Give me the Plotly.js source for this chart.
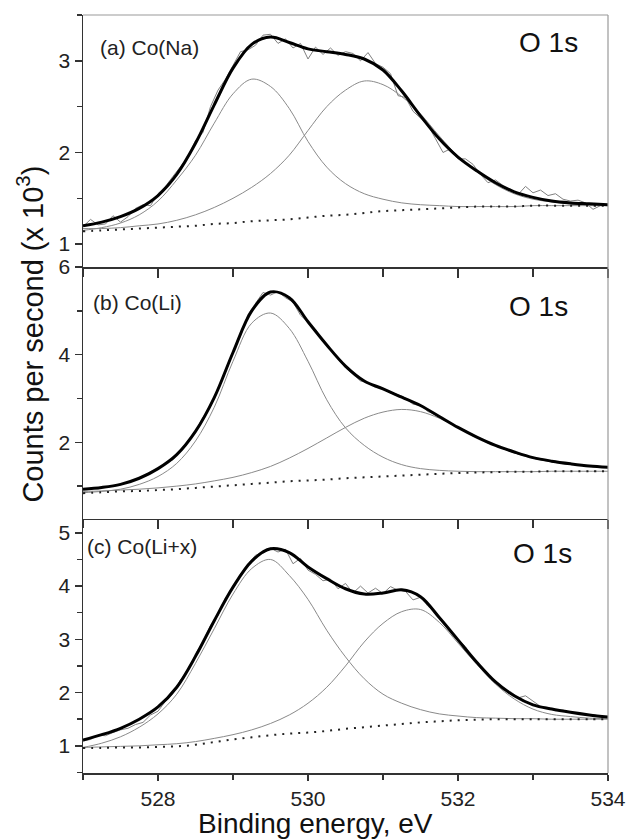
<!DOCTYPE html>
<html>
<head>
<meta charset="utf-8">
<script src="https://cdn.plot.ly/plotly-3.0.1.min.js"></script>
<style>html,body{margin:0;padding:0;background:#fff;}#chart{width:627px;height:839px;}</style>
</head>
<body>
<div id="chart"></div>
<script>
// Binding energy grids (eV)
const energyFit = [527,527.25,527.5,527.75,528,528.25,528.5,528.75,529,529.25,529.5,529.75,530,530.25,530.5,530.75,531,531.25,531.5,531.75,532,532.25,532.5,532.75,533,533.25,533.5,533.75,534];
const energyData = [527.0,527.1,527.2,527.3,527.4,527.5,527.6,527.7,527.8,527.9,
  528.0,528.1,528.2,528.3,528.4,528.5,528.6,528.7,528.8,528.9,
  529.0,529.1,529.2,529.3,529.4,529.5,529.6,529.7,529.8,529.9,
  530.0,530.1,530.2,530.3,530.4,530.5,530.6,530.7,530.8,530.9,
  531.0,531.1,531.2,531.3,531.4,531.5,531.6,531.7,531.8,531.9,
  532.0,532.1,532.2,532.3,532.4,532.5,532.6,532.7,532.8,532.9,
  533.0,533.1,533.2,533.3,533.4,533.5,533.6,533.7,533.8,533.9,534.0];

// Panel (a) Co(Na), counts x10^3
const dataA = [1.19,1.27,1.21,1.22,1.31,1.24,1.30,1.39,1.43,1.42,
  1.55,1.63,1.74,1.84,1.95,2.13,2.22,2.50,2.68,2.80,
  2.95,3.10,3.12,3.17,3.28,3.29,3.19,3.24,3.14,3.19,
  3.02,3.15,3.07,3.14,3.06,3.10,3.08,3.00,3.09,2.97,
  2.93,2.86,2.62,2.60,2.45,2.37,2.30,2.15,2.00,2.04,
  1.93,1.93,1.87,1.76,1.67,1.70,1.64,1.60,1.54,1.63,
  1.56,1.59,1.53,1.55,1.49,1.47,1.48,1.45,1.38,1.42,1.43];
const envA = [1.20,1.24,1.30,1.39,1.53,1.76,2.10,2.52,2.92,3.18,3.26,3.20,3.13,3.10,3.07,3.02,2.90,2.67,2.40,2.15,1.95,1.80,1.67,1.57,1.51,1.47,1.45,1.44,1.43];
const peak1A = [1.15,1.18,1.23,1.32,1.47,1.70,1.97,2.32,2.64,2.80,2.72,2.48,2.12,1.84,1.66,1.55,1.49,1.45,1.43,1.42,1.41,1.41,1.41,1.41,1.42,1.42,1.42,1.42,1.42];
const peak2A = [1.17,1.17,1.18,1.20,1.22,1.26,1.32,1.40,1.50,1.62,1.77,1.97,2.24,2.50,2.68,2.78,2.74,2.61,2.42,2.18,1.96,1.79,1.65,1.55,1.49,1.46,1.44,1.43,1.42];
const bgA = [1.14,1.15,1.16,1.17,1.18,1.19,1.20,1.22,1.23,1.25,1.26,1.27,1.29,1.31,1.32,1.34,1.36,1.37,1.38,1.39,1.40,1.41,1.41,1.41,1.42,1.42,1.42,1.42,1.42];

// Panel (b) Co(Li)
const dataB = [0.92,0.95,0.94,0.97,1.01,1.03,1.10,1.14,1.22,1.33,
  1.38,1.52,1.60,1.82,2.02,2.25,2.57,2.82,3.22,3.60,
  4.07,4.43,4.92,5.18,5.42,5.36,5.44,5.30,5.20,4.90,
  4.75,4.58,4.30,4.14,3.90,3.70,3.55,3.40,3.36,3.25,
  3.24,3.12,3.09,3.01,2.87,2.84,2.70,2.64,2.51,2.45,
  2.33,2.27,2.14,2.09,1.98,1.94,1.86,1.83,1.73,1.71,
  1.64,1.63,1.58,1.57,1.52,1.52,1.48,1.48,1.44,1.44,1.42];
const envB = [0.93,0.97,1.04,1.18,1.40,1.72,2.25,3.02,4.05,5.00,5.43,5.30,4.75,4.22,3.74,3.40,3.22,3.03,2.84,2.59,2.34,2.12,1.93,1.78,1.65,1.57,1.51,1.46,1.43];
const peak1B = [0.85,0.88,0.93,1.04,1.22,1.52,2.03,2.80,3.85,4.72,4.95,4.60,3.85,2.97,2.33,1.93,1.66,1.49,1.40,1.36,1.34,1.33,1.33,1.33,1.33,1.34,1.34,1.34,1.34];
const peak2B = [0.88,0.89,0.91,0.93,0.96,1.00,1.05,1.12,1.20,1.31,1.45,1.64,1.86,2.10,2.34,2.55,2.69,2.75,2.70,2.55,2.34,2.12,1.92,1.76,1.64,1.55,1.50,1.46,1.42];
const bgB = [0.84,0.86,0.88,0.89,0.91,0.93,0.96,0.99,1.02,1.05,1.08,1.11,1.13,1.15,1.18,1.20,1.22,1.24,1.26,1.28,1.30,1.31,1.32,1.33,1.33,1.34,1.34,1.34,1.34];

// Panel (c) Co(Li+x)
const dataC = [1.09,1.12,1.20,1.19,1.25,1.30,1.33,1.40,1.44,1.58,
  1.65,1.84,1.98,2.24,2.41,2.73,2.95,3.26,3.45,3.78,
  3.95,4.22,4.41,4.58,4.62,4.71,4.64,4.69,4.42,4.52,
  4.30,4.22,4.10,4.13,3.95,4.05,3.87,4.00,3.87,3.96,
  3.86,3.99,3.92,3.90,3.74,3.79,3.62,3.52,3.30,3.17,
  3.00,2.86,2.64,2.50,2.34,2.21,2.05,2.02,1.90,1.94,
  1.84,1.74,1.72,1.66,1.67,1.63,1.62,1.58,1.59,1.55,1.53];
const envC = [1.11,1.21,1.33,1.50,1.73,2.10,2.68,3.35,3.98,4.47,4.70,4.63,4.36,4.14,3.95,3.85,3.87,3.93,3.80,3.41,2.99,2.57,2.20,1.94,1.77,1.69,1.63,1.58,1.54];
const peak1C = [0.97,1.05,1.17,1.35,1.60,1.97,2.55,3.20,3.85,4.33,4.50,4.20,3.75,3.17,2.67,2.26,1.97,1.80,1.68,1.60,1.56,1.53,1.52,1.51,1.51,1.50,1.50,1.50,1.50];
const peak2C = [0.97,0.98,0.99,1.00,1.02,1.04,1.08,1.14,1.21,1.30,1.42,1.58,1.80,2.10,2.50,2.95,3.30,3.52,3.56,3.32,2.93,2.53,2.16,1.88,1.69,1.59,1.55,1.52,1.51];
const bgC = [0.96,0.96,0.97,0.97,0.98,0.99,1.02,1.07,1.12,1.16,1.20,1.23,1.25,1.28,1.32,1.35,1.38,1.41,1.44,1.46,1.48,1.49,1.50,1.50,1.50,1.50,1.50,1.50,1.50];

const panelLabels = ['(a) Co(Na)', '(b) Co(Li)', '(c) Co(Li+x)'];
const peakLabel = 'O 1s';
const xTitle = 'Binding energy, eV';
const yTitle = 'Counts per second (x 10<sup>3</sup>)';

const FONT = 'Liberation Sans, Arial, Helvetica, sans-serif';
const AX = '#333';

function panelTraces(data, env, p1, p2, bg, xa, ya) {
  return [
    {x: energyData, y: data, xaxis: xa, yaxis: ya, mode: 'lines', line: {color: '#808080', width: 1}, showlegend: false, hoverinfo: 'skip'},
    {x: energyFit, y: p1, xaxis: xa, yaxis: ya, mode: 'lines', line: {color: '#8a8a8a', width: 1, shape: 'spline', smoothing: 1}, showlegend: false},
    {x: energyFit, y: p2, xaxis: xa, yaxis: ya, mode: 'lines', line: {color: '#8a8a8a', width: 1, shape: 'spline', smoothing: 1}, showlegend: false},
    {x: energyFit, y: bg, xaxis: xa, yaxis: ya, mode: 'lines', line: {color: '#222', width: 2, dash: '2px,6px', shape: 'spline'}, showlegend: false},
    {x: energyFit, y: env, xaxis: xa, yaxis: ya, mode: 'lines', line: {color: '#000', width: 3, shape: 'spline', smoothing: 1}, showlegend: false}
  ];
}

const traces = [].concat(
  panelTraces(dataA, envA, peak1A, peak2A, bgA, 'x3', 'y3'),
  panelTraces(dataB, envB, peak1B, peak2B, bgB, 'x2', 'y2'),
  panelTraces(dataC, envC, peak1C, peak2C, bgC, 'x', 'y')
);

function xAxis(anchor, labels, len) {
  return {
    anchor: anchor, domain: [0, 1], range: [527, 534],
    tick0: 528, dtick: 2, ticks: 'outside', ticklen: len, tickwidth: 1.5, tickcolor: AX,
    minor: {dtick: 1, ticks: 'outside', ticklen: len - 1, tickwidth: 1.5, tickcolor: AX},
    showticklabels: labels, showgrid: false, zeroline: false,
    showline: true, linecolor: AX, linewidth: 1.5,
    tickfont: {family: FONT, size: 21, color: '#222'}
  };
}
function yAxis(anchor, dom, rng, dt, mdt) {
  return {
    anchor: anchor, domain: dom, range: rng,
    tick0: 0, dtick: dt, ticks: 'outside', ticklen: 7, tickwidth: 1.5, tickcolor: AX,
    minor: {dtick: mdt, ticks: 'outside', ticklen: 5, tickwidth: 1.5, tickcolor: AX},
    showgrid: false, zeroline: false, showline: true, linecolor: AX, linewidth: 1.5,
    tickfont: {family: FONT, size: 21, color: '#222'}
  };
}

const layout = {
  width: 627, height: 839,
  margin: {l: 83, r: 19, t: 15, b: 66},
  paper_bgcolor: '#fff', plot_bgcolor: '#fff',
  font: {family: FONT, color: '#222'},
  showlegend: false,
  xaxis: xAxis('y', true, 6),
  xaxis2: xAxis('y2', false, 9),
  xaxis3: xAxis('y3', false, 9),
  yaxis: yAxis('x', [0, 0.3351], [0.49, 5.26], 1, 0.5),
  yaxis2: yAxis('x2', [0.3351, 0.6675], [0.25, 6.0], 2, 1),
  yaxis3: yAxis('x3', [0.6675, 1], [0.75, 3.5], 1, 0.5),
  shapes: [
    {type: 'line', xref: 'paper', yref: 'paper', x0: 1, x1: 1, y0: 0, y1: 1, line: {color: '#999', width: 1.2}},
    {type: 'line', xref: 'paper', yref: 'paper', x0: 0, x1: 1, y0: 1, y1: 1, line: {color: '#999', width: 1.2}}
  ],
  annotations: [
    {text: panelLabels[0], xref: 'x3', yref: 'y3', x: 527.2, y: 3.15, xanchor: 'left', yanchor: 'middle', showarrow: false, font: {family: FONT, size: 21, color: '#222'}},
    {text: peakLabel, xref: 'x3', yref: 'y3', x: 533.2, y: 3.2, xanchor: 'center', yanchor: 'middle', showarrow: false, font: {family: FONT, size: 28, color: '#111'}},
    {text: panelLabels[1], xref: 'x2', yref: 'y2', x: 527.11, y: 5.18, xanchor: 'left', yanchor: 'middle', showarrow: false, font: {family: FONT, size: 21, color: '#222'}},
    {text: peakLabel, xref: 'x2', yref: 'y2', x: 533.07, y: 5.11, xanchor: 'center', yanchor: 'middle', showarrow: false, font: {family: FONT, size: 28, color: '#111'}},
    {text: panelLabels[2], xref: 'x', yref: 'y', x: 527.02, y: 4.74, xanchor: 'left', yanchor: 'middle', showarrow: false, font: {family: FONT, size: 21, color: '#222'}},
    {text: peakLabel, xref: 'x', yref: 'y', x: 533.12, y: 4.62, xanchor: 'center', yanchor: 'middle', showarrow: false, font: {family: FONT, size: 28, color: '#111'}},
    {text: xTitle, xref: 'paper', yref: 'paper', x: 0.442, y: -0.043, xanchor: 'center', yanchor: 'top', showarrow: false, font: {family: FONT, size: 28, color: '#111'}},
    {text: yTitle, xref: 'paper', yref: 'paper', x: -0.1, y: 0.579, xanchor: 'center', yanchor: 'middle', textangle: -90, showarrow: false, font: {family: FONT, size: 29, color: '#111'}}
  ]
};

Plotly.newPlot('chart', traces, layout, {staticPlot: true, displayModeBar: false});
</script>
</body>
</html>
